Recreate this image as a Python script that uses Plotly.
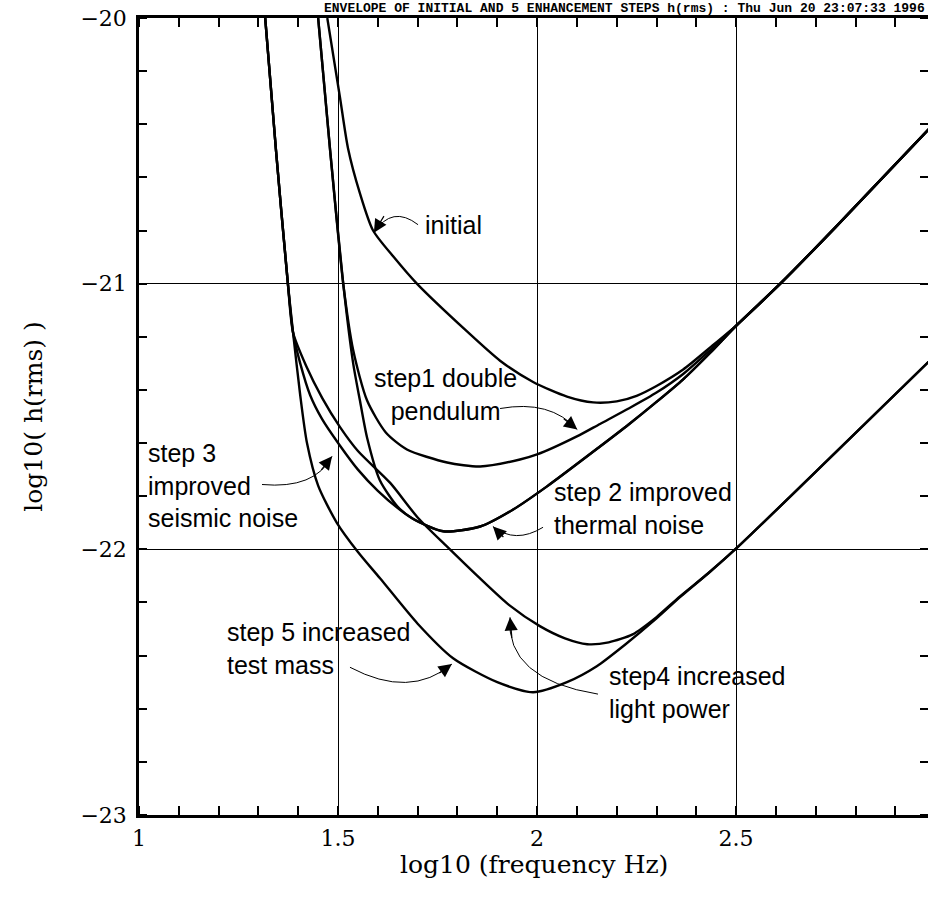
import plotly.graph_objects as go

# ---------------- data (log10 f, log10 h_rms) ----------------
INIT_X = [1.473, 1.505, 1.525, 1.555, 1.588, 1.640, 1.698, 1.824, 1.907, 1.990, 2.075, 2.141, 2.200, 2.250, 2.300, 2.367, 2.435, 2.503, 2.611, 2.750, 3.000]
INIT_Y = [-20.00, -20.30, -20.49, -20.66, -20.80, -20.90, -21.00, -21.18, -21.29, -21.37, -21.425, -21.447, -21.443, -21.422, -21.385, -21.323, -21.24, -21.154, -21.00, -20.787, -20.393]

STEP1_X = [1.450, 1.480, 1.513, 1.538, 1.573, 1.620, 1.673, 1.774, 1.857, 1.957, 2.000, 2.100, 2.158, 2.230, 2.300, 2.367, 2.435, 2.503, 2.611, 2.750, 3.000]
STEP1_Y = [-20.00, -20.496, -21.00, -21.25, -21.44, -21.56, -21.624, -21.673, -21.688, -21.662, -21.643, -21.575, -21.528, -21.47, -21.41, -21.34, -21.25, -21.154, -21.00, -20.787, -20.393]

STEP2_X = [1.450, 1.480, 1.513, 1.538, 1.555, 1.573, 1.605, 1.650, 1.688, 1.764, 1.857, 1.940, 2.025, 2.158, 2.230, 2.300, 2.367, 2.435, 2.503, 2.611, 2.750, 3.000]
STEP2_Y = [-20.00, -20.496, -21.00, -21.30, -21.44, -21.58, -21.74, -21.84, -21.885, -21.932, -21.914, -21.85, -21.763, -21.613, -21.53, -21.445, -21.36, -21.26, -21.154, -21.00, -20.787, -20.393]

STEP3_X = [1.317, 1.344, 1.374, 1.387, 1.405, 1.430, 1.460, 1.505, 1.550, 1.600, 1.650, 1.688, 1.764, 1.857, 1.940, 2.025, 2.158, 2.230, 2.300, 2.367, 2.435, 2.503, 2.611, 2.750, 3.000]
STEP3_Y = [-20.00, -20.496, -21.00, -21.184, -21.30, -21.42, -21.51, -21.61, -21.70, -21.78, -21.845, -21.885, -21.932, -21.914, -21.85, -21.763, -21.613, -21.53, -21.445, -21.36, -21.26, -21.154, -21.00, -20.787, -20.393]

STEP4_X = [1.317, 1.344, 1.374, 1.387, 1.420, 1.460, 1.505, 1.550, 1.631, 1.700, 1.774, 1.850, 1.930, 2.008, 2.070, 2.126, 2.180, 2.240, 2.300, 2.359, 2.430, 2.505, 2.750, 3.000]
STEP4_Y = [-20.00, -20.496, -21.00, -21.184, -21.31, -21.43, -21.54, -21.63, -21.75, -21.88, -21.99, -22.10, -22.21, -22.29, -22.335, -22.357, -22.35, -22.32, -22.255, -22.177, -22.09, -21.99, -21.635, -21.27]

STEP5_X = [1.317, 1.344, 1.374, 1.387, 1.405, 1.422, 1.450, 1.497, 1.550, 1.606, 1.700, 1.789, 1.900, 1.990, 2.075, 2.150, 2.220, 2.300, 2.359, 2.430, 2.505, 2.750, 3.000]
STEP5_Y = [-20.00, -20.496, -21.00, -21.184, -21.42, -21.60, -21.76, -21.90, -22.01, -22.11, -22.28, -22.41, -22.50, -22.538, -22.50, -22.44, -22.36, -22.26, -22.18, -22.09, -21.99, -21.635, -21.27]

X_TICKS = [1, 1.5, 2, 2.5]
X_TICK_LABELS = ["1", "1.5", "2", "2.5"]
Y_TICKS = [-23, -22, -21, -20]
Y_TICK_LABELS = ["\u221223", "\u221222", "\u221221", "\u221220"]

TITLE = "ENVELOPE OF INITIAL AND 5 ENHANCEMENT STEPS h(rms) : Thu Jun 20 23:07:33 1996"
X_TITLE = "log10 (frequency Hz)"
Y_TITLE = "log10( h(rms) )"

X_RANGE = [1, 2.982]
Y_RANGE = [-23, -20]

curves = [
    ("initial", INIT_X, INIT_Y),
    ("step1", STEP1_X, STEP1_Y),
    ("step2", STEP2_X, STEP2_Y),
    ("step3", STEP3_X, STEP3_Y),
    ("step4", STEP4_X, STEP4_Y),
    ("step5", STEP5_X, STEP5_Y),
]

fig = go.Figure()
for name, xs, ys in curves:
    fig.add_trace(go.Scatter(x=xs, y=ys, mode="lines", name=name,
                             line=dict(color="black", width=2.4, shape="spline", smoothing=0.7),
                             showlegend=False, hoverinfo="skip"))
# dummy trace to activate mirrored axes
fig.add_trace(go.Scatter(x=[None], y=[None], xaxis="x2", yaxis="y2", showlegend=False,
                         hoverinfo="skip"))

label_font = dict(family="Liberation Sans, Arial, sans-serif", size=25, color="black")
labels = [
    ("initial", 1.7136, -20.778, "left", "left"),
    ("step1 double<br>pendulum", 1.769, -21.417, "center", "center"),
    ("step 2 improved<br>thermal noise", 2.038, -21.846, "left", "left"),
    ("step 3<br>improved<br>seismic noise", 1.018, -21.759, "left", "left"),
    ("step 5 increased<br>test mass", 1.216, -22.372, "left", "left"),
    ("step4 increased<br>light power", 2.176, -22.538, "left", "left"),
]
for text, x, y, xa, al in labels:
    fig.add_annotation(x=x, y=y, text=text, showarrow=False, xanchor=xa, yanchor="middle",
                       align=al, font=label_font)

# curved leader lines (quadratic) + arrow heads
leaders = [
    ((1.701, -20.778), (1.636, -20.703), (1.590, -20.808), (11, -18)),
    ((1.907, -21.470), (2.033, -21.436), (2.101, -21.549), (-15, -12)),
    ((2.015, -21.917), (1.945, -21.981), (1.889, -21.914), (12, 12)),
    ((1.309, -21.756), (1.442, -21.774), (1.485, -21.650), (-12, 15)),
    ((1.530, -22.444), (1.681, -22.564), (1.786, -22.432), (-14, 10)),
    ((2.153, -22.545), (1.920, -22.489), (1.932, -22.256), (2, 22)),
]
for (x0, y0), (cx, cy), (x1, y1), (ax, ay) in leaders:
    fig.add_shape(type="path", xref="x", yref="y",
                  path=f"M{x0},{y0} Q{cx},{cy} {x1},{y1}",
                  line=dict(color="black", width=1))
    fig.add_annotation(x=x1, y=y1, ax=ax, ay=ay, axref="pixel", ayref="pixel", text="",
                       showarrow=True, arrowhead=2, arrowsize=2.2, arrowwidth=1.2,
                       arrowcolor="black")

fig.add_annotation(xref="paper", yref="paper", x=0.232, y=1.0, yshift=0, xanchor="left",
                   yanchor="bottom", text="<b>" + TITLE + "</b>", showarrow=False,
                   font=dict(family="Liberation Mono, monospace", size=13.0, color="black"))

serif = "DejaVu Serif, serif"
fig.add_annotation(xref="paper", yref="paper", x=0.5, y=0, yshift=-49, xanchor="center",
                   yanchor="middle", text=X_TITLE, showarrow=False,
                   font=dict(family=serif, size=25, color="black"))

fig.update_layout(
    width=928, height=899,
    margin=dict(l=139, r=0, t=18, b=84, autoexpand=False),
    paper_bgcolor="white", plot_bgcolor="white",
    showlegend=False,
    xaxis=dict(range=X_RANGE, tickmode="array", tickvals=X_TICKS, ticktext=X_TICK_LABELS,
               automargin=False,
               showgrid=True, gridcolor="black", gridwidth=1.3, zeroline=False,
               showline=True, linecolor="black", linewidth=2.5,
               ticks="", ticklabelstandoff=2,
               minor=dict(dtick=0.1, tick0=1, ticks="inside", ticklen=9, tickwidth=1.5,
                          tickcolor="black", showgrid=False),
               tickfont=dict(family=serif, size=22, color="black")),
    yaxis=dict(range=Y_RANGE, tickmode="array", tickvals=Y_TICKS, ticktext=Y_TICK_LABELS,
               automargin=False,
               showgrid=True, gridcolor="black", gridwidth=1.3, zeroline=False,
               showline=True, linecolor="black", linewidth=2.5,
               ticks="", ticklabelstandoff=5,
               minor=dict(dtick=0.2, tick0=-23, ticks="inside", ticklen=8, tickwidth=1.5,
                          tickcolor="black", showgrid=False),
               tickfont=dict(family=serif, size=22, color="black"),
               title=dict(text=Y_TITLE, font=dict(family=serif, size=25, color="black"), standoff=31)),
    xaxis2=dict(range=X_RANGE, overlaying="x", side="top", anchor="y", showgrid=False,
                automargin=False,
                zeroline=False, showline=True, linecolor="black", linewidth=2.5,
                showticklabels=False, ticks="", tickmode="array", tickvals=X_TICKS,
                minor=dict(dtick=0.1, tick0=1, ticks="inside", ticklen=9, tickwidth=1.5,
                           tickcolor="black", showgrid=False)),
    yaxis2=dict(range=Y_RANGE, overlaying="y", side="right", anchor="x", showgrid=False,
                automargin=False,
                zeroline=False, showline=False, showticklabels=False, ticks="",
                tickmode="array", tickvals=Y_TICKS,
                minor=dict(dtick=0.2, tick0=-23, ticks="inside", ticklen=8, tickwidth=1.5,
                           tickcolor="black", showgrid=False)),
)

fig.write_html("out.html", config={"displayModeBar": False},
               post_script="document.body.style.margin='0px';")
